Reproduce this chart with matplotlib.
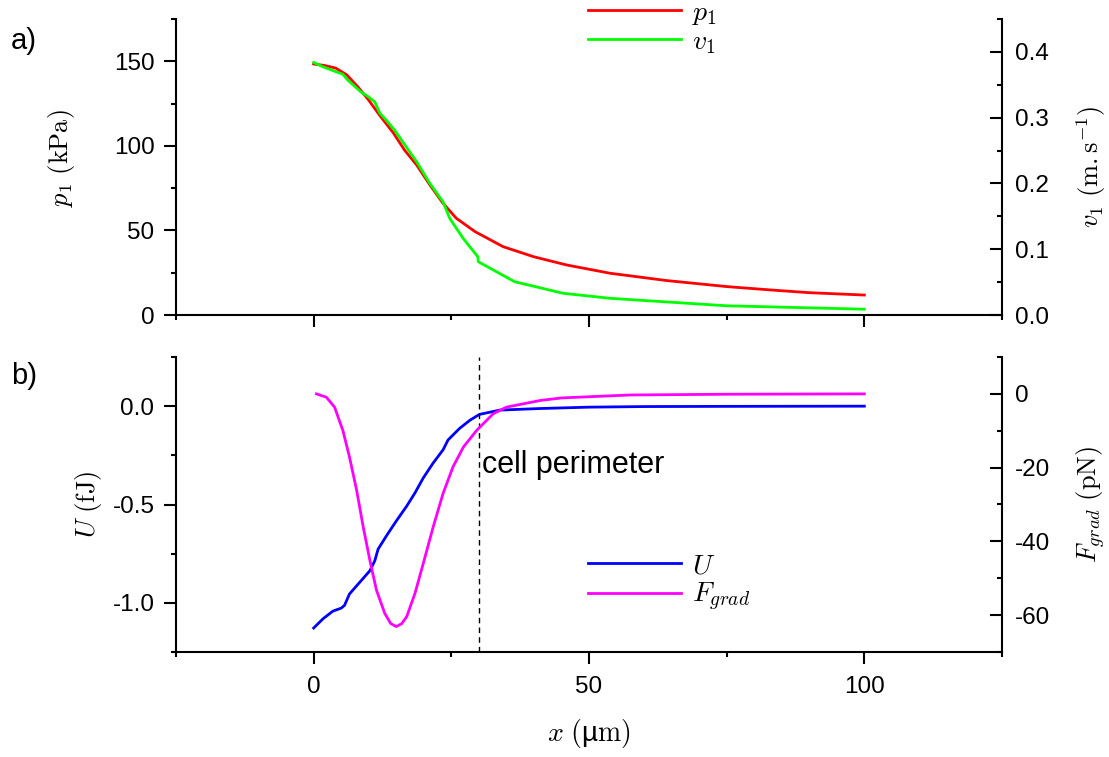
import matplotlib
matplotlib.use('Agg')
import matplotlib.pyplot as plt
from matplotlib.ticker import MultipleLocator

plt.rcParams['font.family'] = ['Liberation Sans', 'DejaVu Sans']
plt.rcParams['mathtext.fontset'] = 'cm'
plt.rcParams['axes.unicode_minus'] = False

# a) pressure and velocity along x
x_p1 = [0, 2, 4, 6, 8, 10, 12, 14.5, 16.5, 18.7, 21.1, 23.5, 25.9, 29.3, 34.4,
        39.9, 45.9, 53.8, 64, 75, 83, 90, 100]
p1 = [148.4, 147.5, 146, 142, 135, 127, 118, 107.5, 97.5, 88.7, 76.9, 66.0,
      57.2, 49.3, 40.4, 34.5, 29.6, 24.7, 20.4, 16.8, 14.8, 13.2, 11.8]

x_v1 = [0, 1.5, 4, 5.3, 6.2, 8.6, 9.9, 11.1, 12, 13.2, 14.7, 17.2, 18.7, 21.1,
        23.5, 24.7, 27.1, 29.8, 29.9, 36.5, 45.3, 53.8, 75, 100]
v1 = [0.384, 0.378, 0.370, 0.366, 0.357, 0.339, 0.332, 0.324, 0.307, 0.296,
      0.281, 0.251, 0.233, 0.200, 0.172, 0.147, 0.117, 0.0887, 0.081, 0.0506,
      0.033, 0.0254, 0.014, 0.0088]

# b) potential energy and gradient force
x_U = [0, 1.7, 3.5, 5.0, 5.6, 6.5, 8.1, 10.2, 11.1, 11.7, 13.2, 15.0, 16.9,
       18.4, 19.9, 21.7, 23.5, 24.4, 26.5, 28.4, 30.1, 33.8, 41.1, 50, 60, 75,
       100]
U = [-1.128, -1.081, -1.042, -1.027, -1.013, -0.955, -0.904, -0.837, -0.786,
     -0.727, -0.660, -0.584, -0.508, -0.441, -0.365, -0.289, -0.222, -0.172,
     -0.113, -0.071, -0.042, -0.020, -0.012, -0.005, -0.002, -0.001, 0.0]

x_F = [0.5, 2.3, 3.8, 5.3, 6.5, 7.8, 9.0, 10.2, 11.4, 12.9, 14.0, 15.0, 16.0,
       16.9, 18.4, 19.9, 21.7, 23.5, 25.3, 27.2, 29.6, 32.6, 35.0, 41.1, 45,
       57.5, 75, 100]
F_grad = [0.0, -0.9, -3.6, -9.9, -17.1, -26.1, -36.1, -45.1, -53.2, -59.5,
          -62.3, -63.1, -62.3, -60.4, -54.1, -46.0, -36.1, -27.0, -19.8, -14.4,
          -9.9, -5.4, -3.6, -1.8, -1.1, -0.3, -0.1, 0.0]

cell_edge = 30

W, H = 1109, 757
fig = plt.figure(figsize=(W / 100, H / 100), dpi=100)

left, right = 176 / W, 1002 / W
ax1 = fig.add_axes([left, 1 - 315 / H, right - left, 296 / H])
ax2 = fig.add_axes([left, 1 - 652 / H, right - left, 295 / H])
ax1r = ax1.twinx()
ax2r = ax2.twinx()


def style(ax, side):
    ax.spines['top'].set_visible(False)
    for s in ['left', 'right', 'bottom']:
        ax.spines[s].set_linewidth(1.5)
    if side == 'left':
        ax.spines['right'].set_visible(False)
        ax.tick_params(axis='y', which='both', direction='out', width=1.5,
                       labelsize=17.5, pad=7)
    else:
        ax.spines['left'].set_visible(False)
        ax.spines['bottom'].set_visible(False)
        ax.tick_params(axis='y', which='both', direction='in', width=1.5,
                       labelsize=17.5, pad=9)
    ax.tick_params(axis='y', which='major', length=8.5)
    ax.tick_params(axis='y', which='minor', length=3.6)
    ax.tick_params(axis='x', which='both', direction='out', width=1.5,
                   labelsize=17.5, pad=9)
    ax.tick_params(axis='x', which='major', length=8.5)
    ax.tick_params(axis='x', which='minor', length=3.6)


for ax in (ax1, ax2):
    style(ax, 'left')
    ax.set_xlim(-25, 125)
    ax.xaxis.set_major_locator(MultipleLocator(50))
    ax.xaxis.set_minor_locator(MultipleLocator(25))
for ax in (ax1r, ax2r):
    style(ax, 'right')

ax1.tick_params(axis='x', which='both', labelbottom=False)

# top panel
l_p, = ax1.plot(x_p1, p1, color='#ff0000', lw=2)
l_v, = ax1r.plot(x_v1, v1, color='#00ff00', lw=2)
ax1.set_ylim(0, 175)
ax1.yaxis.set_major_locator(MultipleLocator(50))
ax1.yaxis.set_minor_locator(MultipleLocator(25))
ax1r.set_ylim(0, 0.45)
ax1r.yaxis.set_major_locator(MultipleLocator(0.1))
ax1r.yaxis.set_minor_locator(MultipleLocator(0.05))
ax1r.yaxis.set_major_formatter(lambda v, pos: f'{v:.1f}')
ax1.set_ylabel(r'$p_{\mathit{1}}\ \mathrm{(kPa)}$', fontsize=19)
ax1r.set_ylabel(r'$v_{\mathit{1}}\ \mathrm{(m.s^{-1})}$', fontsize=19)
ax1.yaxis.set_label_coords(-0.12, 0.53)
ax1r.yaxis.set_label_coords(1.087, 0.5)

# bottom panel
l_U, = ax2.plot(x_U, U, color='#0000ff', lw=2)
l_F, = ax2r.plot(x_F, F_grad, color='#ff00ff', lw=2)
ax2.axvline(cell_edge, color='black', lw=1, ls=(0, (4, 3)))
ax2.text(cell_edge + 0.6, -0.30, 'cell perimeter', fontsize=22, va='center')
ax2.set_ylim(-1.25, 0.25)
ax2.yaxis.set_major_locator(MultipleLocator(0.5))
ax2.yaxis.set_minor_locator(MultipleLocator(0.25))
ax2.yaxis.set_major_formatter(lambda v, pos: f'{v:.1f}')
ax2r.set_ylim(-70, 10)
ax2r.yaxis.set_major_locator(MultipleLocator(20))
ax2r.yaxis.set_minor_locator(MultipleLocator(10))
ax2.set_ylabel(r'$U\ \mathrm{(fJ)}$', fontsize=19)
ax2r.set_ylabel(r'$F_{grad}\ \mathrm{(pN)}$', fontsize=19)
ax2.yaxis.set_label_coords(-0.087, 0.5)
ax2r.yaxis.set_label_coords(1.087, 0.5)
ax2.set_xlabel(r'$x\ (\mathregular{µ}\mathrm{m})$', fontsize=20)
ax2.xaxis.set_label_coords(0.5, -0.22)

leg_kw = dict(loc='upper left', frameon=False, fontsize=20, borderpad=0,
              borderaxespad=0, handlelength=3.35, handletextpad=0.4,
              labelspacing=0.08)
fig.legend([l_p, l_v], [r'$p_{\mathit{1}}$', r'$v_{\mathit{1}}$'],
           bbox_to_anchor=(588 / W, 1.0), **leg_kw)
fig.legend([l_U, l_F], [r'$U$', r'$F_{grad}$'],
           bbox_to_anchor=(588 / W, 1 - 553 / H), **leg_kw)

fig.text(11 / W, 1 - 41 / H, 'a)', fontsize=21, va='center')
fig.text(11 / W, 1 - 376 / H, 'b)', fontsize=21, va='center')

fig.savefig('out.png', dpi=100)
